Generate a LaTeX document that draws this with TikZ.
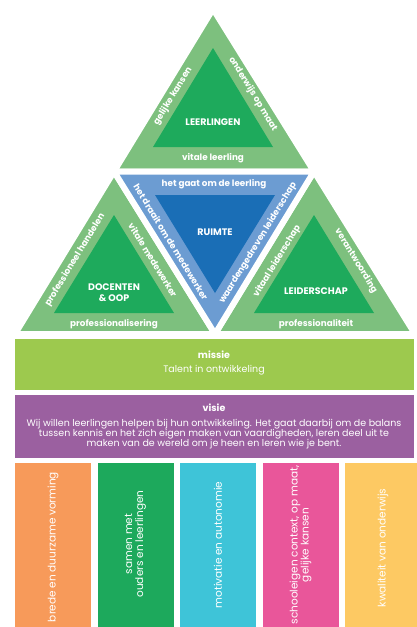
\documentclass[tikz,border=0pt]{standalone}
\usepackage{fontspec}
\setmainfont{Poppins}
\definecolor{leafgreen}{RGB}{125,192,126}
\definecolor{darkgreen}{RGB}{30,170,92}
\definecolor{skyblue}{RGB}{108,156,210}
\definecolor{deepblue}{RGB}{26,110,182}
\definecolor{lime}{RGB}{157,201,78}
\definecolor{plum}{RGB}{155,96,160}
\definecolor{pilorange}{RGB}{247,154,90}
\definecolor{pilgreen}{RGB}{29,169,92}
\definecolor{pilcyan}{RGB}{62,196,216}
\definecolor{pilpink}{RGB}{233,86,154}
\definecolor{pilyellow}{RGB}{253,201,99}

\begin{document}
\begin{tikzpicture}[x=1pt,y=-1pt,
  tri/.style={draw=white,line width=6pt,line join=miter},
  edgelbl/.style={text=white,inner sep=0pt,font=\fontsize{8.8}{10}\selectfont\bfseries},
  corelbl/.style={text=white,align=center,inner sep=0pt,font=\fontsize{9.5}{11}\selectfont\bfseries},
  headlbl/.style={text=white,inner sep=0pt,font=\fontsize{9.5}{11}\selectfont\bfseries},
  plainlbl/.style={text=white,align=center,inner sep=0pt,font=\fontsize{9.5}{10}\selectfont},
  pillbl/.style={text=white,align=center,inner sep=0pt,rotate=90,font=\fontsize{10.5}{11}\selectfont}]

\useasboundingbox (0,0) rectangle (416,627);

%% triangles
% outer parts
\filldraw [tri,fill=leafgreen] (213,9) -- (114,171.5) -- (314,171.5) -- cycle;
\filldraw [tri,fill=leafgreen] (114,171.5) -- (15,334) -- (215,334) -- cycle;
\filldraw [tri,fill=leafgreen] (314,171.5) -- (215,334) -- (415,334) -- cycle;
\filldraw [tri,fill=skyblue] (114,171.5) -- (314,171.5) -- (215,334) -- cycle;
% inner parts
\fill [darkgreen] (213,48) -- (153,147) -- (273,147) -- cycle;
\fill [darkgreen] (114,215) -- (54,313) -- (174,313) -- cycle;
\fill [darkgreen] (314,215) -- (254,313) -- (374,313) -- cycle;
\fill [deepblue] (155,195) -- (275,195) -- (215,293) -- cycle;

% top
\node [corelbl] (leerlingen) at (213,122) {LEERLINGEN};
\node [edgelbl,rotate=58.6] (gelijk) at (173,96) {gelijke kansen};
\node [edgelbl,rotate=-58.6] (opmaat) at (253,94) {onderwijs op maat};
\node [edgelbl] (vitleer) at (213,158) {vitale leerling};
% left
\node [corelbl] (docenten) at (114,293) {DOCENTEN\\\& OOP};
\node [edgelbl,rotate=58.6] (handelen) at (75,260) {professioneel handelen};
\node [edgelbl,rotate=-58.6] (vitmede) at (153,260) {vitale medewerker};
\node [edgelbl] (profsering) at (114,324) {professionalisering};
% middle
\node [corelbl] (ruimte) at (215,232) {RUIMTE};
\node [edgelbl] (gaatom) at (214,184) {het gaat om de leerling};
\node [edgelbl,rotate=-58.6] (draait) at (171,242) {het draait om de medewerker};
\node [edgelbl,rotate=58.6] (waarden) at (258,243) {waardengedreven leiderschap};
% right
\node [corelbl] (leiderschap) at (316,291) {LEIDERSCHAP};
\node [edgelbl,rotate=58.6] (vitleid) at (277,261) {vitaal leiderschap};
\node [edgelbl,rotate=-58.6] (verantw) at (356,261) {verantwoording};
\node [edgelbl] (profiteit) at (316,324) {professionaliteit};

%% missie and visie
\fill [lime] (15,339) rectangle (414,390);
\node [headlbl] (missie) at (214,355) {missie};
\node [plainlbl] (talent) at (214,370) {Talent in ontwikkeling};
\fill [plum] (15,395) rectangle (414,458);
\node [headlbl] (visie) at (214,408) {visie};
\node [plainlbl] (visietekst) at (214,434) {Wij willen leerlingen helpen bij hun ontwikkeling. Het gaat daarbij om de balans\\tussen kennis en het zich eigen maken van vaardigheden, leren deel uit te\\maken van de wereld om je heen en leren wie je bent.};

%% pillars
\foreach \col [count=\i] in {pilorange,pilgreen,pilcyan,pilpink,pilyellow}
  \fill [\col] ({15+(\i-1)*82.5},463) rectangle +(76,170);
\node [pillbl] (brede) at (53,547) {brede en duurzame vorming};
\node [pillbl] (samen) at (135.5,544) {samen met\\ouders en leerlingen};
\node [pillbl] (motivatie) at (218,545) {motivatie en autonomie};
\node [pillbl] (schooleigen) at (300.5,545) {schooleigen context, op maat,\\gelijke kansen};
\node [pillbl] (kwaliteit) at (383,548) {kwaliteit van onderwijs};

\end{tikzpicture}
\end{document}
